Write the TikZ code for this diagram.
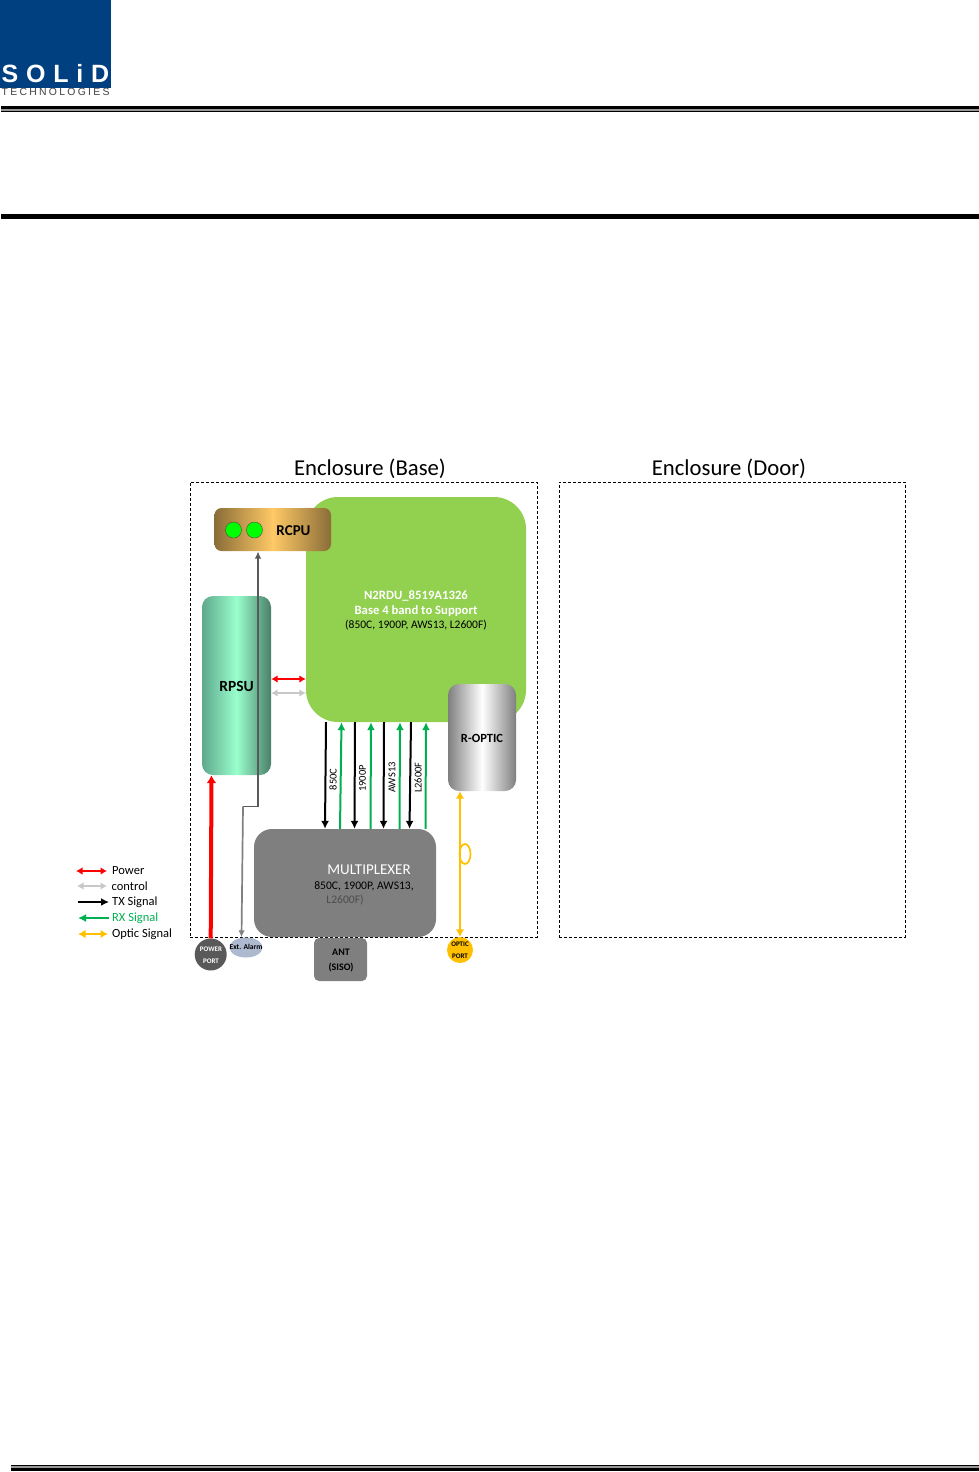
\documentclass[tikz,border=0pt]{standalone}
\usepackage{fontspec}
\setmainfont{Carlito}
\newfontfamily\logofont{Liberation Sans}
\usetikzlibrary{arrows.meta,positioning,calc,shapes.geometric}
\newcommand{\pxfont}[1]{\fontsize{#1}{#1}\selectfont}
\definecolor{logoblue}{HTML}{003F80}
\definecolor{boardgreen}{HTML}{92D050}
\definecolor{muxgray}{HTML}{7F7F7F}
\definecolor{portgray}{HTML}{595959}
\definecolor{alarmblue}{HTML}{ADB9CF}
\definecolor{rxgreen}{HTML}{00B050}
\definecolor{opticorange}{HTML}{FFC000}
\definecolor{ctrlgray}{HTML}{C8C8C8}
\definecolor{rcpuedge}{HTML}{8A6D38}
\definecolor{rcpumid}{HTML}{FFC966}
\definecolor{rpsuedgeA}{HTML}{5FA88C}
\definecolor{rpsuedgeB}{HTML}{4A7F6A}
\definecolor{rpsumid}{HTML}{99FFCC}
\tikzset{
  enclosurebox/.style={draw, densely dashed, line width=0.7pt, minimum height=455, inner sep=0pt},
  enclosuretitle/.style={font=\pxfont{22.7}},
  moduletext/.style={font=\pxfont{15}\bfseries},
  smalltext/.style={font=\pxfont{7.5}\bfseries, inner sep=0pt, align=center},
  bandlabel/.style={font=\pxfont{10.5}, rotate=90, inner sep=0pt},
  legendlabel/.style={font=\pxfont{12.5}, anchor=west, inner sep=0pt},
  txarrow/.style={-{Latex[length=8pt,width=8pt]}, draw=black, line width=2pt},
  rxarrow/.style={-{Latex[length=8pt,width=8pt]}, draw=rxgreen, line width=2pt},
  powerarrow/.style={{Latex[length=6.5pt,width=7.5pt]}-{Latex[length=6.5pt,width=7.5pt]}, draw=red, line width=1.1pt},
  ctrlarrow/.style={{Latex[length=6.5pt,width=7.5pt]}-{Latex[length=6.5pt,width=7.5pt]}, draw=ctrlgray, line width=1.1pt},
  opticarrow/.style={{Latex[length=7.5pt,width=8.5pt]}-{Latex[length=7.5pt,width=8.5pt]}, draw=opticorange, line width=2pt}
}
\begin{document}
\begin{tikzpicture}[x=1pt,y=-1pt]
  \useasboundingbox (0,0) rectangle (979,1472);

  % page header and footer
  \fill[logoblue] (0,0) rectangle (110.5,87.5);
  \node[anchor=west, inner sep=0pt, text=white, font=\logofont\pxfont{25}\bfseries\addfontfeature{LetterSpace=31}] (logoname) at (1.5,74) {SOLiD};
  \node[anchor=west, inner sep=0pt, text=black!75, font=\logofont\pxfont{10.4}\addfontfeature{LetterSpace=22}] (logosub) at (1.5,92) {TECHNOLOGIES};
  \fill[black] (1,106) rectangle (979,112);
  \fill[black!40] (1,109) rectangle (979,111);
  \fill[black] (1,214) rectangle (979,219);
  \fill[black] (11,1465) rectangle (979,1471);
  \fill[black!40] (11,1466.2) rectangle (979,1467.6);

  % enclosures
  \node[enclosurebox, minimum width=347] (base) at (363.5,709.5) {};
  \node[enclosurebox, minimum width=346] (door) at (732,709.5) {};
  \node[enclosuretitle] (basetitle) at (370,469) {Enclosure (Base)};
  \node[enclosuretitle] (doortitle) at (729,469) {Enclosure (Door)};

  % modules
  \node[fill=boardgreen, rounded corners=32, minimum width=220, minimum height=225, inner sep=0pt] (board) at (416,609.5) {};
  \node[text=white, font=\pxfont{12.7}\bfseries, inner sep=0pt] (boardname) at (416,596) {N2RDU\_8519A1326};
  \node[text=white, font=\pxfont{12.7}\bfseries, inner sep=0pt] (boardbase) at (416,611) {Base 4 band to Support};
  \node[font=\pxfont{11.5}, inner sep=0pt] (boardbands) at (416,625.5) {(850C, 1900P, AWS13, L2600F)};

  \node[left color=rcpuedge, right color=rcpuedge, middle color=rcpumid, rounded corners=7, minimum width=116.5, minimum height=43, inner sep=0pt] (rcpu) at (272.75,529.5) {};
  \node[moduletext, inner sep=0pt] at (293.5,530.5) {RCPU};
  \node[circle, draw=black!70, fill=green, minimum size=16, inner sep=0pt] (ledA) at (233.5,530) {};
  \node[circle, draw=black!70, fill=green, minimum size=16, inner sep=0pt] (ledB) at (254.5,530) {};

  \node[left color=rpsuedgeA, right color=rpsuedgeB, middle color=rpsumid, rounded corners=11, minimum width=69, minimum height=179, inner sep=0pt] (rpsu) at (236.5,685.5) {};
  \node[moduletext, font=\pxfont{15.5}\bfseries, inner sep=0pt] at (236.5,686.5) {RPSU};

  \node[left color=black!50, right color=black!50, middle color=white, rounded corners=11, minimum width=68, minimum height=107, inner sep=0pt] (roptic) at (482,737.5) {};
  \node[font=\pxfont{12.5}\bfseries, inner sep=0pt] at (482,738.5) {R-OPTIC};

  \node[fill=muxgray, rounded corners=18, minimum width=182, minimum height=108, inner sep=0pt] (mux) at (345,883) {};
  \node[text=white, font=\pxfont{15}, inner sep=0pt] (muxname) at (369,870) {MULTIPLEXER};
  \node[font=\pxfont{11.6}, inner sep=0pt] (muxbands) at (364,886) {850C, 1900P, AWS13,};
  \node[text=black!70, font=\pxfont{11.6}, inner sep=0pt] (muxlast) at (345,900) {L2600F)};

  % ports
  \node[fill=muxgray, rounded corners=5, minimum width=53, minimum height=43, inner sep=0pt] (ant) at (340.5,959.5) {};
  \node[smalltext, font=\pxfont{10}\bfseries] at (341,952.5) {ANT};
  \node[smalltext, font=\pxfont{10}\bfseries] at (341,968) {(SISO)};
  \node[circle, fill=portgray, minimum size=32, inner sep=0pt] (powerport) at (210.7,954.5) {};
  \node[smalltext, text=white, font=\pxfont{7}\bfseries] at (211,949) {POWER};
  \node[smalltext, text=white, font=\pxfont{7}\bfseries] at (211,961) {PORT};
  \node[ellipse, fill=alarmblue, minimum width=33, minimum height=20, inner sep=0pt] (alarm) at (246,947.5) {};
  \node[smalltext, font=\pxfont{7.5}\bfseries] at (246,947) {Ext. Alarm};
  \node[circle, fill=opticorange, minimum size=26, inner sep=0pt] (opticport) at (460,950) {};
  \node[smalltext, font=\pxfont{7}\bfseries] at (460,944.5) {OPTIC};
  \node[smalltext, font=\pxfont{7}\bfseries] at (460,956.5) {PORT};

  % signal paths
  \coordinate (alarmbend) at (243,806.5);
  \coordinate (rcpuin) at (258,551.5);
  \draw[{Latex[length=7pt,width=6.5pt]}-, draw=black!65, line width=1.5pt] (rcpuin) -- (rcpuin |- alarmbend) -- (alarmbend);
  \draw[-{Latex[length=7pt,width=6.5pt]}, draw=black!50, line width=1.7pt] (alarmbend) -- (alarm.north -| 241.5,0);
  \draw[-{Latex[length=8pt,width=10pt]}, draw=red, line width=4pt] (powerport.north) -- (rpsu.south -| 211.5,0);
  \draw[powerarrow] (rpsu.east |- 0,679) -- (board.west |- 0,679);
  \draw[ctrlarrow] (rpsu.east |- 0,693) -- (board.west |- 0,693);

  \draw[txarrow] (board.south -| 326,0) -- (mux.north -| 325,0);
  \draw[rxarrow] (mux.north -| 340,0) -- (board.south -| 341.5,0);
  \draw[txarrow] (board.south -| 355,0) -- (mux.north -| 354.5,0);
  \draw[rxarrow] (mux.north -| 370.5,0) -- (board.south -| 371,0);
  \draw[txarrow] (board.south -| 384,0) -- (mux.north -| 383.5,0);
  \draw[rxarrow] (mux.north -| 399.5,0) -- (board.south -| 400,0);
  \draw[txarrow] (board.south -| 411,0) -- (mux.north -| 409.5,0);
  \draw[rxarrow] (mux.north -| 425.5,0) -- (board.south -| 426,0);
  \node[bandlabel] at (333,779.5) {850C};
  \node[bandlabel] at (362.5,778.5) {1900P};
  \node[bandlabel] at (392,777.5) {AWS13};
  \node[bandlabel] at (418,777.5) {L2600F};

  \draw[opticarrow] (roptic.south -| opticport.north) -- (opticport.north);
  \node[ellipse, draw=opticorange, line width=1.7pt, minimum width=11, minimum height=20, inner sep=0pt] (fibreloop) at (465,854) {};

  % legend
  \coordinate (legA) at (76,871);
  \coordinate (legB) at (107,871);
  \draw[powerarrow] (legA) -- (legB);
  \node[legendlabel, right=5 of legB, yshift=0.5] (legpower) {Power};
  \coordinate (legC) at (77,886);
  \coordinate (legD) at (107,886);
  \draw[ctrlarrow] (legC) -- (legD);
  \node[legendlabel, right=4.5 of legD] (legctrl) {control};
  \coordinate (legE) at (78,902);
  \coordinate (legF) at (109,902);
  \draw[txarrow] (legE) -- (legF);
  \node[legendlabel, right=3 of legF, yshift=-0.5] (legtx) {TX Signal};
  \coordinate (legG) at (78,918);
  \coordinate (legH) at (109,918);
  \draw[rxarrow] (legH) -- (legG);
  \node[legendlabel, right=3 of legH, text=rxgreen, yshift=-0.5] (legrx) {RX Signal};
  \coordinate (legI) at (78,934);
  \coordinate (legJ) at (108,934);
  \draw[opticarrow] (legI) -- (legJ);
  \node[legendlabel, right=4 of legJ, yshift=-0.5] (legoptic) {Optic Signal};
\end{tikzpicture}
\end{document}
